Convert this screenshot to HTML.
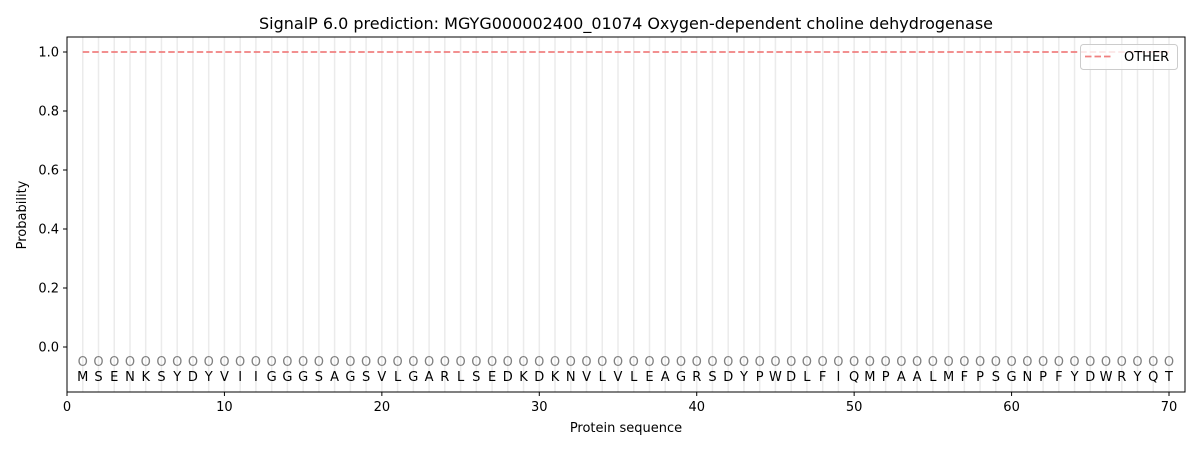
<!DOCTYPE html>
<html><head><meta charset="utf-8"><style>body{margin:0;background:#fff}svg{display:block}</style></head><body>
<svg width="1200" height="450" xmlns="http://www.w3.org/2000/svg" font-family="DejaVu Sans, Liberation Sans, sans-serif">
<rect width="1200" height="450" fill="#fff"/>
<g stroke="#ebebeb" stroke-width="1.5">
<path d="M82.74 37V392M98.49 37V392M114.23 37V392M129.97 37V392M145.72 37V392M161.46 37V392M177.2 37V392M192.94 37V392M208.69 37V392M224.43 37V392M240.17 37V392M255.92 37V392M271.66 37V392M287.4 37V392M303.15 37V392M318.89 37V392M334.63 37V392M350.37 37V392M366.12 37V392M381.86 37V392M397.6 37V392M413.35 37V392M429.09 37V392M444.83 37V392M460.58 37V392M476.32 37V392M492.06 37V392M507.8 37V392M523.55 37V392M539.29 37V392M555.03 37V392M570.78 37V392M586.52 37V392M602.26 37V392M618.01 37V392M633.75 37V392M649.49 37V392M665.23 37V392M680.98 37V392M696.72 37V392M712.46 37V392M728.21 37V392M743.95 37V392M759.69 37V392M775.44 37V392M791.18 37V392M806.92 37V392M822.66 37V392M838.41 37V392M854.15 37V392M869.89 37V392M885.64 37V392M901.38 37V392M917.12 37V392M932.87 37V392M948.61 37V392M964.35 37V392M980.09 37V392M995.84 37V392M1011.58 37V392M1027.32 37V392M1043.07 37V392M1058.81 37V392M1074.55 37V392M1090.3 37V392M1106.04 37V392M1121.78 37V392M1137.52 37V392M1153.27 37V392M1169.01 37V392"/>
</g>
<path d="M82.74 52H1169.01" stroke="#f08080" stroke-width="1.8" stroke-dasharray="6.5,3"/>
<text font-size="13" fill="#808080" text-anchor="middle" y="366" x="82.74 98.49 114.23 129.97 145.72 161.46 177.2 192.94 208.69 224.43 240.17 255.92 271.66 287.4 303.15 318.89 334.63 350.37 366.12 381.86 397.6 413.35 429.09 444.83 460.58 476.32 492.06 507.8 523.55 539.29 555.03 570.78 586.52 602.26 618.01 633.75 649.49 665.23 680.98 696.72 712.46 728.21 743.95 759.69 775.44 791.18 806.92 822.66 838.41 854.15 869.89 885.64 901.38 917.12 932.87 948.61 964.35 980.09 995.84 1011.58 1027.32 1043.07 1058.81 1074.55 1090.3 1106.04 1121.78 1137.52 1153.27 1169.01">OOOOOOOOOOOOOOOOOOOOOOOOOOOOOOOOOOOOOOOOOOOOOOOOOOOOOOOOOOOOOOOOOOOOOO</text>
<text font-size="13" fill="#000" text-anchor="middle" y="381" x="82.74 98.49 114.23 129.97 145.72 161.46 177.2 192.94 208.69 224.43 240.17 255.92 271.66 287.4 303.15 318.89 334.63 350.37 366.12 381.86 397.6 413.35 429.09 444.83 460.58 476.32 492.06 507.8 523.55 539.29 555.03 570.78 586.52 602.26 618.01 633.75 649.49 665.23 680.98 696.72 712.46 728.21 743.95 759.69 775.44 791.18 806.92 822.66 838.41 854.15 869.89 885.64 901.38 917.12 932.87 948.61 964.35 980.09 995.84 1011.58 1027.32 1043.07 1058.81 1074.55 1090.3 1106.04 1121.78 1137.52 1153.27 1169.01">MSENKSYDYVIIGGGSAGSVLGARLSEDKDKNVLVLEAGRSDYPWDLFIQMPAALMFPSGNPFYDWRYQT</text>
<rect x="67" y="37" width="1118" height="355" fill="none" stroke="#000" stroke-width="1"/>
<g stroke="#000" stroke-width="1">
<path d="M67 392v4M224.43 392v4M381.86 392v4M539.29 392v4M696.72 392v4M854.15 392v4M1011.58 392v4M1169.01 392v4"/>
<path d="M67 52h-4M67 111h-4M67 170h-4M67 229h-4M67 288h-4M67 347h-4"/>
</g>
<g font-size="13" fill="#000" text-anchor="middle">
<text x="67" y="411">0</text><text x="224.43" y="411">10</text><text x="381.86" y="411">20</text><text x="539.29" y="411">30</text><text x="696.72" y="411">40</text><text x="854.15" y="411">50</text><text x="1011.58" y="411">60</text><text x="1169.01" y="411">70</text>
</g>
<g font-size="13" fill="#000" text-anchor="end">
<text x="59" y="56.5">1.0</text><text x="59" y="115.5">0.8</text><text x="59" y="174.5">0.6</text><text x="59" y="233.5">0.4</text><text x="59" y="292.5">0.2</text><text x="59" y="351.5">0.0</text>
</g>
<text x="626" y="432" font-size="13" text-anchor="middle">Protein sequence</text>
<text transform="translate(26 215) rotate(-90)" font-size="13" text-anchor="middle">Probability</text>
<text x="626" y="29" font-size="16" text-anchor="middle">SignalP 6.0 prediction: MGYG000002400_01074 Oxygen-dependent choline dehydrogenase</text>
<rect x="1080.5" y="44.5" width="97" height="25" rx="3" fill="#fff" fill-opacity="0.8" stroke="#ccc"/>
<path d="M1085 56.5h28" stroke="#f08080" stroke-width="1.8" stroke-dasharray="6.5,3"/>
<text x="1124" y="61" font-size="13">OTHER</text>
</svg>
</body></html>
